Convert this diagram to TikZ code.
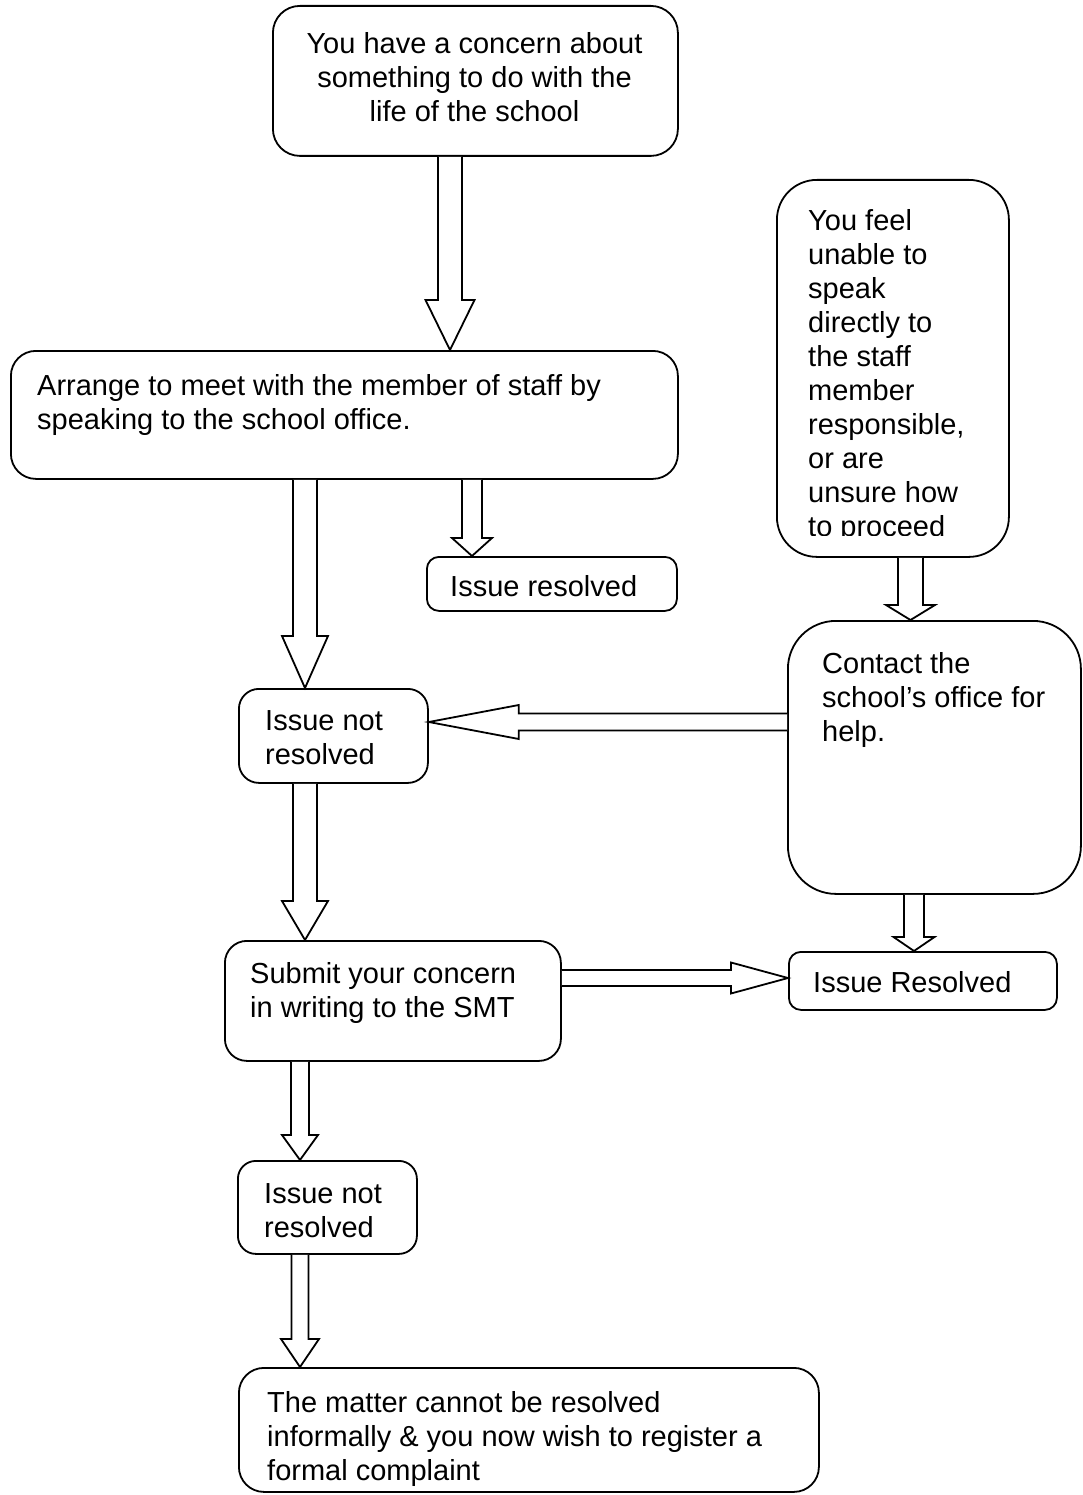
\documentclass[tikz,border=0pt]{standalone}
\usepackage{fontspec}
\setmainfont{Liberation Sans}
\usetikzlibrary{calc}
\tikzset{
  box/.style={draw, line width=1.8pt, rounded corners=#1, inner sep=0pt, anchor=north west},
  box/.default=20pt,
  txt/.style={font=\fontsize{29}{34}\selectfont, align=left, inner sep=0pt, anchor=north west},
  blk/.style={draw, line width=1.8pt, line join=miter, fill=white}
}
% vertical block arrow: from node, to node, x (px), shaft half width, head half width, head length
\newcommand\varrow[6]{%
  \draw[blk] let \p1=(#1.south), \p2=(#2.north) in
    (#3pt-#4pt,\y1) -- (#3pt-#4pt,\y2+#6pt) -- (#3pt-#5pt,\y2+#6pt) -- (#3pt,\y2)
    -- (#3pt+#5pt,\y2+#6pt) -- (#3pt+#4pt,\y2+#6pt) -- (#3pt+#4pt,\y1);}
% horizontal block arrow: from anchor, to anchor, y (px), shaft hw, head hw, signed head length
\newcommand\harrow[6]{%
  \draw[blk] let \p1=(#1), \p2=(#2) in
    (\x1,-#3pt+#4pt) -- (\x2+#6pt,-#3pt+#4pt) -- (\x2+#6pt,-#3pt+#5pt) -- (\x2,-#3pt)
    -- (\x2+#6pt,-#3pt-#5pt) -- (\x2+#6pt,-#3pt-#4pt) -- (\x1,-#3pt-#4pt);}
\begin{document}
\begin{tikzpicture}[x=1pt,y=-1pt]
\fill[white] (0,0) rectangle (1083,1495);
\useasboundingbox (0,0) rectangle (1083,1495);

% boxes
\node[box=27pt, minimum width=405pt, minimum height=150pt] (b1) at (272,5) {};
\node[box=25pt, minimum width=667pt, minimum height=128pt] (b2) at (10,350) {};
\node[box=12pt, minimum width=250pt, minimum height=54pt] (b3) at (426,556) {};
\node[box=40pt, minimum width=232pt, minimum height=377pt] (b4) at (776,179) {};
\node[box=48pt, minimum width=293pt, minimum height=273pt] (b5) at (787,620) {};
\node[box=20pt, minimum width=189pt, minimum height=94pt] (b6) at (238,688) {};
\node[box=22pt, minimum width=336pt, minimum height=120pt] (b7) at (224,940) {};
\node[box=12pt, minimum width=268pt, minimum height=58pt] (b8) at (788,951) {};
\node[box=18pt, minimum width=179pt, minimum height=93pt] (b9) at (237,1160) {};
\node[box=25pt, minimum width=580pt, minimum height=124pt] (b10) at (238,1367) {};

% texts
\node[txt, align=center, anchor=north] (t1) at (474.5,29.2)
  {\strut You have a concern about\\something to do with the\\life of the school};
\node[txt] (t2) at (37,371.2)
  {\strut Arrange to meet with the member of staff by\\speaking to the school office.};
\node[txt] (t3) at (450,572.2) {\strut Issue resolved};
\begin{scope}
\clip (770,170) rectangle (1012,535);
\node[txt] (t4) at (808,206.2)
  {\strut You feel\\unable to\\speak\\directly to\\the staff\\member\\responsible,\\or are\\unsure how\\to proceed};
\end{scope}
\node[txt] (t5) at (822,649.2) {\strut Contact the\\school’s office for\\help.};
\node[txt] (t6) at (265,706.2) {\strut Issue not\\resolved};
\node[txt] (t7) at (250,959.2) {\strut Submit your concern\\in writing to the SMT};
\node[txt] (t8) at (813,968.2) {\strut Issue Resolved};
\node[txt] (t9) at (264,1179.2) {\strut Issue not\\resolved};
\node[txt] (t10) at (267,1388.2)
  {\strut The matter cannot be resolved\\informally \& you now wish to register a\\formal complaint};

% block arrows
\varrow{b1}{b2}{450}{12}{24.5}{50}
\varrow{b2}{b6}{305}{12}{23}{52}
\varrow{b2}{b3}{472}{10}{20}{18}
\varrow{b4}{b5}{910.5}{12.5}{24.5}{15}
\varrow{b6}{b7}{305}{12}{23}{39}
\varrow{b5}{b8}{914}{10}{20.5}{14}
\varrow{b7}{b9}{300}{9}{18}{25}
\varrow{b9}{b10}{300}{8.5}{19}{28}
\harrow{b5.west}{b6.east}{722}{8.5}{17}{90}
\harrow{b7.east}{b8.west}{978}{8}{15.5}{-57}
\end{tikzpicture}
\end{document}
